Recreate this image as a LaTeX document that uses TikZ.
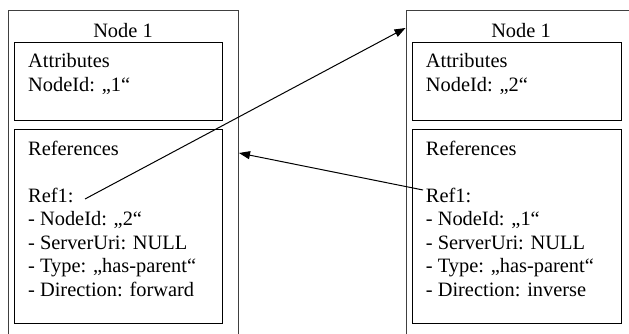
\documentclass[tikz,border=0pt]{standalone}
\usepackage{fontspec}
\setmainfont{Liberation Serif}
\usetikzlibrary{arrows.meta}
\begin{document}
\begin{tikzpicture}[x=1pt,y=-1pt,
  outer/.style={draw=black!75,line width=0.9pt},
  inner/.style={draw=black,line width=0.9pt},
  txt/.style={anchor=base west,inner sep=0pt,font=\fontsize{20.4}{23.5}\selectfont},
  ttl/.style={anchor=base,inner sep=0pt,font=\fontsize{20.4}{23.5}\selectfont},
  arr/.style={line width=1pt,-{Triangle[length=11pt,width=8pt]}}]
\useasboundingbox (0,0) rectangle (629,334);
% left node
\draw[outer] (8,334) -- (8,10) -- (238,10) -- (238,334);
\coordinate (leftside) at (239,153);
\node[ttl] (t1) at (123,38) {Node 1};
\draw[inner] (14,42) rectangle (222,120);
\draw[inner] (14,129) rectangle (222,323);
\node[txt] (a1) at (28,68) {Attributes};
\node[txt] (a2) at (28,91.5) {NodeId: „1“};
\node[txt] (r1) at (28,155) {References};
\node[txt] (ref1L) at (28,202) {Ref1:};
\node[txt] (l1) at (28,225.5) {- NodeId: „2“};
\node[txt] (l2) at (28,249) {- ServerUri: NULL};
\node[txt] (l3) at (28,272.5) {- Type: „has-parent“};
\node[txt] (l4) at (28,296) {- Direction: forward};
% right node
\draw[outer] (406,334) -- (406,10) -- (629,10);
\coordinate (rightcorner) at (405.5,28);
\node[ttl] (t2) at (521,38) {Node 1};
\draw[inner] (412,42) rectangle (621.5,120);
\draw[inner] (412,129) rectangle (621.5,323);
\node[txt] (b1) at (425.7,68) {Attributes};
\node[txt] (b2) at (425.7,91.5) {NodeId: „2“};
\node[txt] (s1) at (425.7,155) {References};
\node[txt] (ref1R) at (425.7,202) {Ref1:};
\node[txt] (m1) at (425.7,225.5) {- NodeId: „1“};
\node[txt] (m2) at (425.7,249) {- ServerUri: NULL};
\node[txt] (m3) at (425.7,272.5) {- Type: „has-parent“};
\node[txt] (m4) at (425.7,296) {- Direction: inverse};
% arrows
\coordinate (startL) at (85,199);
\coordinate (startR) at (423,190);
\draw[arr] (startL) -- (rightcorner);
\draw[arr] (startR) -- (leftside);
\end{tikzpicture}
\end{document}
